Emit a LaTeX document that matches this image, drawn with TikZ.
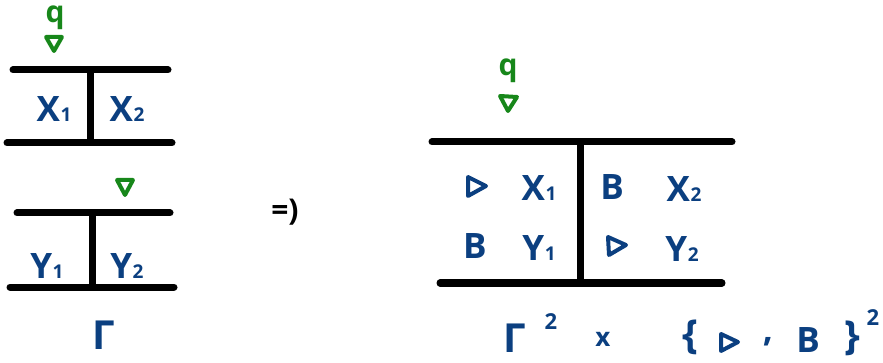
\documentclass[tikz,border=0pt]{standalone}
\usepackage{fontspec}
\setmainfont{Open Sans}
\definecolor{inkblue}{HTML}{0B3F80}
\definecolor{inkgreen}{HTML}{17871A}
\newcommand{\lowidx}[1]{\kern0.5pt{\fontsize{19}{19}\selectfont #1}}
\tikzset{
  bar/.style={line width=7pt, line cap=round, black},
  lbl/.style={inkblue, font=\fontsize{35}{35}\selectfont\bfseries, inner sep=0pt},
  small/.style={inkblue, font=\fontsize{22}{22}\selectfont\bfseries, inner sep=0pt},
  glbl/.style={inkgreen, font=\fontsize{30}{30}\selectfont\bfseries, inner sep=0pt},
  gtri/.style={inkgreen, line width=4pt, line join=round},
  btri/.style={inkblue, line width=4pt, line join=round},
}
\begin{document}
\begin{tikzpicture}[x=1pt,y=-1pt]
\useasboundingbox (0,0) rectangle (883,363);

% first H-shaped component
\coordinate (a1) at (13,70);   \coordinate (a2) at (168,70);
\coordinate (a3) at (7,143);   \coordinate (a4) at (172,143);
\coordinate (a5) at (90,72);   \coordinate (a6) at (90,141);
\draw[bar] (a1) -- (a2);
\draw[bar] (a3) -- (a4);
\draw[bar] (a5) -- (a6);
\node[lbl] (x1) at (54,109) {X\lowidx{1}};
\node[lbl] (x2) at (127,109) {X\lowidx{2}};
\node[glbl] (q1) at (55,18) {q};
\draw[gtri] (46,37) -- (62,37) -- (54,51) -- cycle;

% second H-shaped component
\coordinate (b1) at (17,213);  \coordinate (b2) at (170,213);
\coordinate (b3) at (10,287);  \coordinate (b4) at (174,287);
\coordinate (b5) at (92,215);  \coordinate (b6) at (92,285);
\draw[bar] (b1) -- (b2);
\draw[bar] (b3) -- (b4);
\draw[bar] (b5) -- (b6);
\node[lbl] (y1) at (47,266) {Y\lowidx{1}};
\node[lbl] (y2) at (127,266) {Y\lowidx{2}};
\draw[gtri] (117,180) -- (133,180) -- (125,195) -- cycle;

\node[lbl, font=\fontsize{40}{40}\selectfont\bfseries] (gam) at (104,335) {Γ};

% implication sign
\node[inner sep=0pt, font=\fontsize{30}{30}\selectfont\bfseries] (impl) at (285,212) {=)};

% combined component
\node[glbl] (q2) at (508,71) {q};
\draw[gtri] (500,96) -- (517,97) -- (508,111) -- cycle;
\coordinate (c1) at (432,142); \coordinate (c2) at (732,142);
\coordinate (c3) at (440,283); \coordinate (c4) at (722,283);
\coordinate (c5) at (580,145); \coordinate (c6) at (580,280);
\draw[bar] (c1) -- (c2);
\draw[bar] (c3) -- (c4);
\draw[bar] (c5) -- (c6);

\draw[btri] (468,177) -- (486,186) -- (468,196) -- cycle;
\node[lbl] (cx1) at (539,188) {X\lowidx{1}};
\node[lbl] (cb1) at (475,246) {B};
\node[lbl] (cy1) at (539,248) {Y\lowidx{1}};
\node[lbl] (cb2) at (612,187) {B};
\node[lbl] (cx2) at (684,189) {X\lowidx{2}};
\draw[btri] (608,237) -- (626,245) -- (609,255) -- cycle;
\node[lbl] (cy2) at (682,249) {Y\lowidx{2}};

% product set
\node[lbl, font=\fontsize{40}{40}\selectfont\bfseries] (gam2) at (515,338) {Γ};
\node[small] (sq1) at (551,322) {2};
\node[small, font=\fontsize{26}{26}\selectfont\bfseries] (times) at (603,339) {x};
\node[lbl, font=\fontsize{40}{40}\selectfont\bfseries] (lbr) at (690,337) {\{};
\draw[btri] (721,334) -- (738,342) -- (721,351) -- cycle;
\node[lbl] (comma) at (768,342) {,};
\node[lbl] (cb3) at (808,340) {B};
\node[lbl, font=\fontsize{40}{40}\selectfont\bfseries] (rbr) at (852,338) {\}};
\node[small] (sq2) at (873,318) {2};
\end{tikzpicture}
\end{document}
